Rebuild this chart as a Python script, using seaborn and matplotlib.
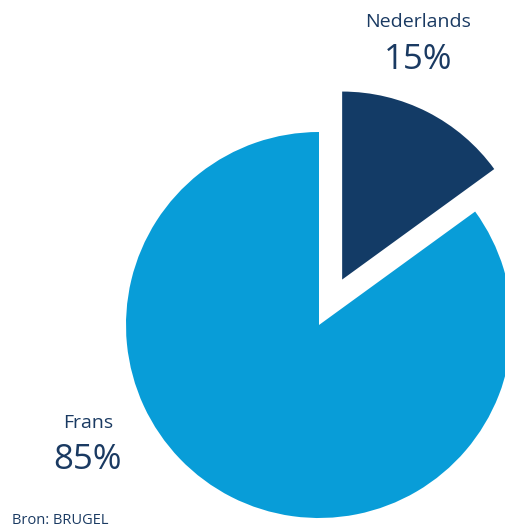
import matplotlib
matplotlib.use("Agg")
import matplotlib.pyplot as plt
import seaborn as sns

labels = ["Nederlands", "Frans"]
shares = [15, 85]
colors = ["#133B66", "#089DD8"]
source = "Bron: BRUGEL"

sns.set_theme(style="white")
plt.rcParams["font.family"] = ["Open Sans", "DejaVu Sans"]
text_color = "#1A3A62"

fig = plt.figure(figsize=(5.06, 5.30), dpi=100)
ax = fig.add_axes([0, 0, 1, 1])

# explode is in data units here (axes spans the figure in pixels)
wedges, _ = ax.pie(shares, colors=colors, startangle=90, counterclock=False,
                   center=(319, 205), radius=193, explode=[51, 0],
                   wedgeprops=dict(linewidth=0), frame=True)
wedges[0].set_radius(188)
ax.set_xlim(0, 506)
ax.set_ylim(0, 530)
ax.set_aspect("equal")
ax.axis("off")

# labels with percentages
label_pos = [(418, 22, 60), (88, 423, 460)]
for lab, val, (x, y1, y2) in zip(labels, shares, label_pos):
    fig.text(x / 506, 1 - y1 / 530, lab, ha="center", va="center",
             fontsize=14, color=text_color)
    fig.text(x / 506, 1 - y2 / 530, f"{val}%", ha="center", va="center",
             fontsize=25, color=text_color)

fig.text(12 / 506, 1 - 521 / 530, source, ha="left", va="center",
         fontsize=10.5, color=text_color)

fig.savefig("out.png", dpi=100)
